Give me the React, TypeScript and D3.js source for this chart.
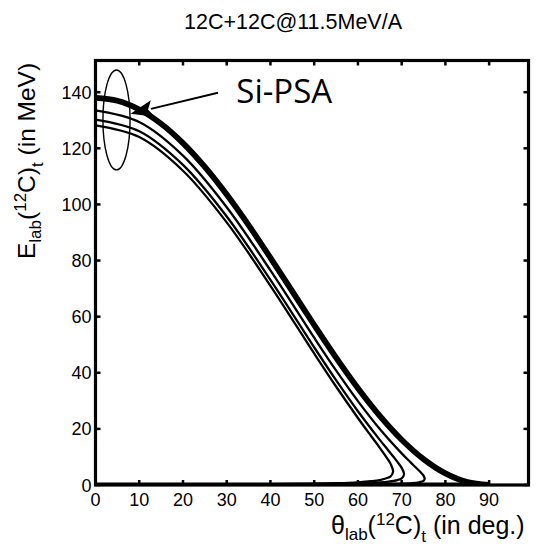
import React from "react";
import * as d3 from "d3";

// Elastic 12C+12C (recoil) kinematics
const elasticTheta = [0, 5, 10, 15, 20, 25, 30, 35, 40, 45, 50, 55, 60, 65, 70, 75, 80, 85, 90];
const elasticE = [138, 136.95, 133.84, 128.76, 121.86, 113.35, 103.5, 92.6, 80.98, 69, 57.02, 45.4, 34.5, 24.65, 16.14, 9.24, 4.16, 1.05, 0];
const elasticLowTheta = [0, 90];
const elasticLowE = [0, 0];

// Inelastic 4.44 MeV
const ex444Theta = [0, 10, 20, 30, 40, 50, 55, 60, 65, 70, 72, 74, 75, 75.26, 75, 74, 72, 70, 65, 60, 55, 50, 40, 30, 20, 10, 0];
const ex444E = [133.52, 129.36, 117.38, 99.01, 76.48, 52.49, 40.84, 29.9, 19.96, 11.27, 8.13, 5.07, 3.32, 2.22, 1.49, 0.97, 0.61, 0.44, 0.25, 0.16, 0.12, 0.09, 0.06, 0.05, 0.04, 0.04, 0.04];

// Inelastic 7.65 MeV
const ex765Theta = [0, 10, 20, 30, 40, 50, 55, 60, 65, 67, 69, 70, 70.55, 70, 69, 67, 65, 60, 55, 50, 40, 30, 20, 10, 0];
const ex765E = [130.24, 126.07, 114.08, 95.7, 73.13, 49.07, 37.36, 26.29, 16.09, 12.22, 8.31, 6.09, 3.83, 2.4, 1.76, 1.2, 0.91, 0.56, 0.39, 0.3, 0.2, 0.15, 0.13, 0.12, 0.11];

// Inelastic 9.64 MeV
const ex964Theta = [0, 10, 20, 30, 40, 50, 55, 60, 63, 65, 67, 67.5, 68.05, 67.5, 67, 65, 63, 60, 55, 50, 40, 30, 20, 10, 0];
const ex964E = [128.18, 124.01, 112.01, 93.61, 71.01, 46.88, 35.1, 23.89, 17.47, 13.26, 8.78, 7.45, 4.82, 3.12, 2.65, 1.75, 1.33, 0.97, 0.66, 0.5, 0.33, 0.25, 0.21, 0.19, 0.18];

const xTicks = [0, 10, 20, 30, 40, 50, 60, 70, 80, 90];
const yTicks = [0, 20, 40, 60, 80, 100, 120, 140];

const title = "12C+12C@11.5MeV/A";
const annotationText = "Si-PSA";

const W = 541;
const H = 553;
const left = 95.5;
const right = 528.5;
const top = 60.5;
const bottom = 485;

export default function App() {
  const x = d3.scaleLinear().domain([0, 99]).range([left, right]);
  const y = d3.scaleLinear().domain([0, 151.3]).range([bottom, top]);

  const line = d3
    .line<[number, number]>()
    .x((d) => x(d[0]))
    .y((d) => y(d[1]))
    .curve(d3.curveCatmullRom.alpha(0.5));

  const zip = (a: number[], b: number[]) => a.map((v, i) => [v, b[i]] as [number, number]);

  const curves = [
    { pts: zip(ex964Theta, ex964E), w: 2.3 },
    { pts: zip(ex765Theta, ex765E), w: 2.3 },
    { pts: zip(ex444Theta, ex444E), w: 2.3 },
    { pts: zip(elasticLowTheta, elasticLowE), w: 5 },
    { pts: zip(elasticTheta, elasticE), w: 5.8 },
  ];

  const font = "'Liberation Sans', Arial, Helvetica, sans-serif";

  // annotation geometry in data coords
  const tip: [number, number] = [8.0, 132.3];
  const tail: [number, number] = [28.0, 139.8];
  const tx = x(tip[0]);
  const ty = y(tip[1]);
  const sx = x(tail[0]);
  const sy = y(tail[1]);
  const len = Math.hypot(sx - tx, sy - ty);
  const ux = (sx - tx) / len;
  const uy = (sy - ty) / len;
  const headL = 23;
  const headW = 8.5;
  const bx = tx + ux * headL;
  const by = ty + uy * headL;
  const nx = -uy;
  const ny = ux;
  const head = `${tx},${ty} ${bx + nx * headW},${by + ny * headW} ${tx + ux * (headL - 5)},${ty + uy * (headL - 5)} ${bx - nx * headW},${by - ny * headW}`;

  return (
    <svg
      width={W}
      height={H}
      style={{ position: "absolute", left: 0, top: 0, background: "#fff" }}
      fontFamily={font}
    >
      <rect x={0} y={0} width={W} height={H} fill="#fff" />
      <text x={293} y={29} textAnchor="middle" fontSize={21.5} fill="#000">
        {title}
      </text>

      <defs>
        <clipPath id="plotclip">
          <rect x={left} y={top} width={right - left} height={bottom - top} />
        </clipPath>
      </defs>

      <g clipPath="url(#plotclip)">
        {curves.map((c, i) => (
          <path key={i} d={line(c.pts) || ""} fill="none" stroke="#000" strokeWidth={c.w} strokeLinejoin="round" />
        ))}
      </g>

      {/* ellipse */}
      <ellipse
        cx={x(4.8)}
        cy={y(130.1)}
        rx={x(4.8) - x(1.7)}
        ry={y(112.3) - y(130.1)}
        fill="none"
        stroke="#000"
        strokeWidth={1.4}
      />

      {/* arrow */}
      <line x1={sx} y1={sy} x2={bx - ux * 2} y2={by - uy * 2} stroke="#000" strokeWidth={2} />
      <polygon points={head} fill="#000" />
      <text x={x(32.2)} y={y(136.2)} fontSize={33} fontFamily="'Open Sans', 'DejaVu Sans', sans-serif" fill="#000">
        {annotationText}
      </text>

      {/* ticks */}
      {xTicks.map((t) => (
        <g key={"xt" + t}>
          <line x1={x(t)} x2={x(t)} y1={bottom} y2={bottom - 5} stroke="#000" strokeWidth={2.5} />
          <line x1={x(t)} x2={x(t)} y1={top} y2={top + 5} stroke="#000" strokeWidth={2.5} />
          <text x={x(t)} y={506} textAnchor="middle" fontSize={18} fill="#000">
            {t}
          </text>
        </g>
      ))}
      {yTicks.map((t) => (
        <g key={"yt" + t}>
          <line x1={left} x2={left + 5} y1={y(t)} y2={y(t)} stroke="#000" strokeWidth={2.5} />
          <line x1={right} x2={right - 5} y1={y(t)} y2={y(t)} stroke="#000" strokeWidth={2.5} />
          <text x={left - 4} y={y(t) + 6.5} textAnchor="end" fontSize={18} fill="#000">
            {t}
          </text>
        </g>
      ))}

      {/* frame */}
      <rect x={left} y={top} width={right - left} height={bottom - top} fill="none" stroke="#000" strokeWidth={3.2} />

      {/* y label */}
      <text transform={`translate(35,259) rotate(-90)`} fontSize={24.5} fill="#000">
        <tspan>E</tspan>
        <tspan fontSize={17} dy={6}>lab</tspan>
        <tspan dy={-6}>(</tspan>
        <tspan fontSize={17} dy={-9}>12</tspan>
        <tspan dy={9}>C)</tspan>
        <tspan fontSize={17} dy={8}>t</tspan>
        <tspan dy={-8}> (in MeV)</tspan>
      </text>

      {/* x label */}
      <text x={331} y={534} fontSize={25} fill="#000">
        <tspan>θ</tspan>
        <tspan fontSize={17} dy={6}>lab</tspan>
        <tspan dy={-6}>(</tspan>
        <tspan fontSize={17} dy={-9}>12</tspan>
        <tspan dy={9}>C)</tspan>
        <tspan fontSize={17} dy={8}>t</tspan>
        <tspan dy={-8}> (in deg.)</tspan>
      </text>
    </svg>
  );
}
